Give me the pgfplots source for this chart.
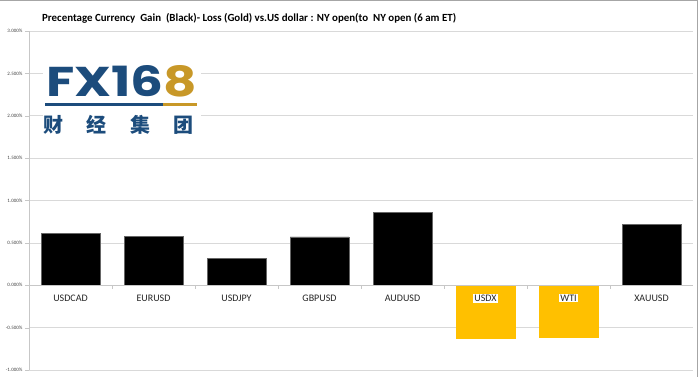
\documentclass[border=0pt]{standalone}
\usepackage{pgfplots}
\pgfplotsset{compat=1.18}
\usepackage{fontspec}
\usepackage{graphicx}
\setmainfont{Carlito}
\newfontfamily\logofont{Poppins}
\newfontfamily\cjk{Noto Sans CJK SC}
\definecolor{gold}{RGB}{255,192,0}
\definecolor{logoblue}{RGB}{28,76,124}
\definecolor{logogold}{RGB}{200,152,40}
\definecolor{gridgray}{RGB}{217,217,217}
\begin{document}
\begin{tikzpicture}[x=1pt,y=1pt]
\useasboundingbox (0,0) rectangle (700,377);
\begin{axis}[
  at={(29pt,7pt)}, anchor=south west,
  scale only axis, width=664pt, height=339pt,
  xmin=-0.5, xmax=7.5, ymin=-1, ymax=3,
  axis x line=none,
  axis y line*=left,
  y axis line style={gridgray!80!gray, line width=0.8pt},
  ytick={-1,-0.5,...,3},
  ymajorgrids, grid style={gridgray, line width=0.6pt},
  ytick style={gridgray!80!gray},
  ytick align=outside, major tick length=4pt,
  yticklabel={\pgfmathprintnumber[fixed,fixed zerofill,precision=3]{\tick}\%},
  yticklabel style={font=\fontsize{5}{6}\selectfont, text=black!75, xshift=1pt},
  /pgf/number format/assume math mode=true,
  ybar, bar width=0.71, bar shift=0pt,
  clip=false,
]
\addplot[fill=black, draw=black!60, line width=0.5pt] coordinates {
  (0,0.613) (1,0.577) (2,0.315) (3,0.570) (4,0.857) (7,0.716)};
\addplot[fill=gold, draw=gold] coordinates {(5,-0.620) (6,-0.617)};
\draw[gridgray!80!gray, line width=0.7pt] (axis cs:-0.5,0) -- (axis cs:7.5,0);
\draw[gridgray!80!gray, line width=0.8pt] (axis cs:-0.5,-1) -- (axis cs:-0.5,3);
\pgfplotsinvokeforeach{0.5,1.5,2.5,3.5,4.5,5.5,6.5}{
  \draw[gridgray!80!gray, line width=0.6pt] (axis cs:#1,0) -- ([yshift=-4pt]axis cs:#1,0);
}
\tikzset{catlab/.style={fill=white, inner sep=1pt, font=\fontsize{10}{12}\selectfont, text=black!85, yshift=-13pt}}
\node[catlab] at (axis cs:0,0) {USDCAD};
\node[catlab] at (axis cs:1,0) {EURUSD};
\node[catlab] at (axis cs:2,0) {USDJPY};
\node[catlab] at (axis cs:3,0) {GBPUSD};
\node[catlab] at (axis cs:4,0) {AUDUSD};
\node[catlab] at (axis cs:5,0) {USDX};
\node[catlab] at (axis cs:6,0) {WTI};
\node[catlab] at (axis cs:7,0) {XAUUSD};
\end{axis}
% logo
\fill[white] (43,237) rectangle (201,315);
\node[anchor=south west, inner sep=0pt] at (46,280) {\resizebox{151pt}{31pt}{\logofont\bfseries\textcolor{logoblue}{FX16}\textcolor{logogold}{8}}};
\fill[logoblue] (45,270.5) rectangle (163,273.5);
\fill[logogold] (163,270.5) rectangle (197,273.5);
\foreach \c/\x in {财/53,经/96,集/140,团/183}
  \node[font=\cjk\bfseries\fontsize{20}{22}\selectfont, text=logoblue, inner sep=0pt] at (\x,252) {\c};
% title
\node[anchor=west, inner sep=0pt, font=\bfseries\fontsize{10.9}{12}\selectfont] at (42,359) {Precentage Currency\ \ Gain\ \ (Black)- Loss (Gold) vs.US dollar : NY open(to\ \ NY open (6 am ET)};
% frame
\draw[gray!70, line width=1pt] (0,376.5) -- (697,376.5) -- (697,0);
\end{tikzpicture}
\end{document}
